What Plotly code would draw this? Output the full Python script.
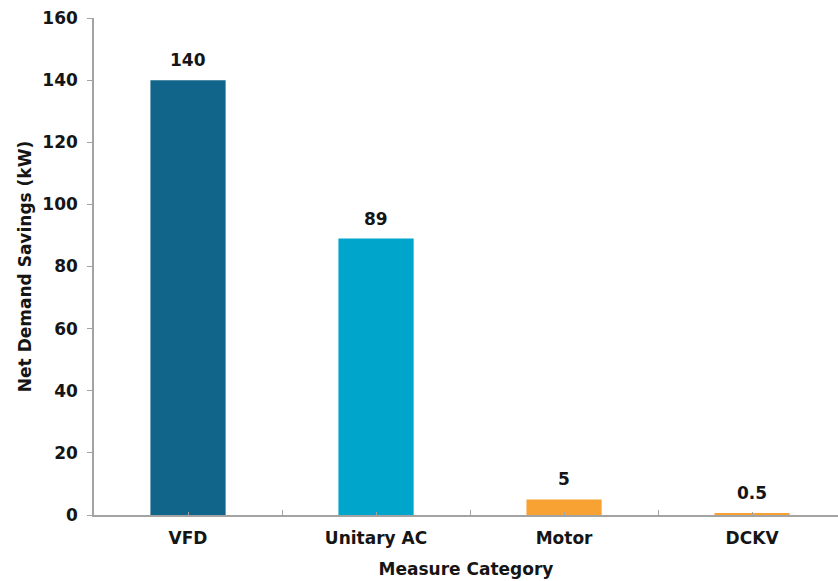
import plotly.graph_objects as go

# Net demand savings by measure category
categories = ["VFD", "Unitary AC", "Motor", "DCKV"]
savings_kw = [140, 89, 5, 0.5]
value_labels = ["140", "89", "5", "0.5"]
bar_colors = ["#12658a", "#00a5cc", "#f7a233", "#f7a233"]
y_ticks = [0, 20, 40, 60, 80, 100, 120, 140, 160]

positions = list(range(len(categories)))
FONT = "DejaVu Sans"
TEXT_COLOR = "#151515"
AXIS_COLOR = "#a3a3a3"

fig = go.Figure(
    go.Bar(
        x=positions,
        y=savings_kw,
        width=0.4,
        marker=dict(color=bar_colors, line=dict(width=0)),
        hoverinfo="skip",
    )
)

# Value labels sitting a little above each bar
for pos, val, lab in zip(positions, savings_kw, value_labels):
    fig.add_annotation(
        x=pos,
        y=val,
        text=f"<b>{lab}</b>",
        showarrow=False,
        yanchor="bottom",
        yshift=8,
        font=dict(family=FONT, size=17, color=TEXT_COLOR),
    )

fig.update_layout(
    width=838,
    height=581,
    margin=dict(l=94, r=0, t=18, b=66),
    paper_bgcolor="white",
    plot_bgcolor="white",
    showlegend=False,
    font=dict(family=FONT, color=TEXT_COLOR),
)

fig.update_xaxes(
    range=[-0.5, 3.457],
    tickvals=positions,
    ticktext=[f"<b>{c}</b>" for c in categories],
    tickfont=dict(family=FONT, size=17, color=TEXT_COLOR),
    showgrid=False,
    zeroline=False,
    showline=True,
    linecolor=AXIS_COLOR,
    linewidth=1.5,
    ticks="inside",
    ticklen=3,
    tickcolor=AXIS_COLOR,
    ticklabelstandoff=7,
    minor=dict(
        tickvals=[-0.5, 0.5, 1.5, 2.5, 3.5],
        ticks="inside",
        ticklen=5,
        tickcolor=AXIS_COLOR,
        showgrid=False,
    ),
    title=dict(text="<b>Measure Category</b>",
               font=dict(family=FONT, size=17, color=TEXT_COLOR), standoff=16),
)

fig.update_yaxes(
    range=[0, 160],
    tickvals=y_ticks,
    ticktext=[f"<b>{v}</b>" for v in y_ticks],
    tickfont=dict(family=FONT, size=17, color=TEXT_COLOR),
    showgrid=False,
    zeroline=False,
    showline=True,
    linecolor=AXIS_COLOR,
    linewidth=1.5,
    ticks="outside",
    ticklen=5,
    tickcolor=AXIS_COLOR,
    ticklabelstandoff=6,
    title=dict(text="<b>Net Demand Savings (kW)</b>",
               font=dict(family=FONT, size=17, color=TEXT_COLOR), standoff=6),
)

fig.write_html("out.html")
